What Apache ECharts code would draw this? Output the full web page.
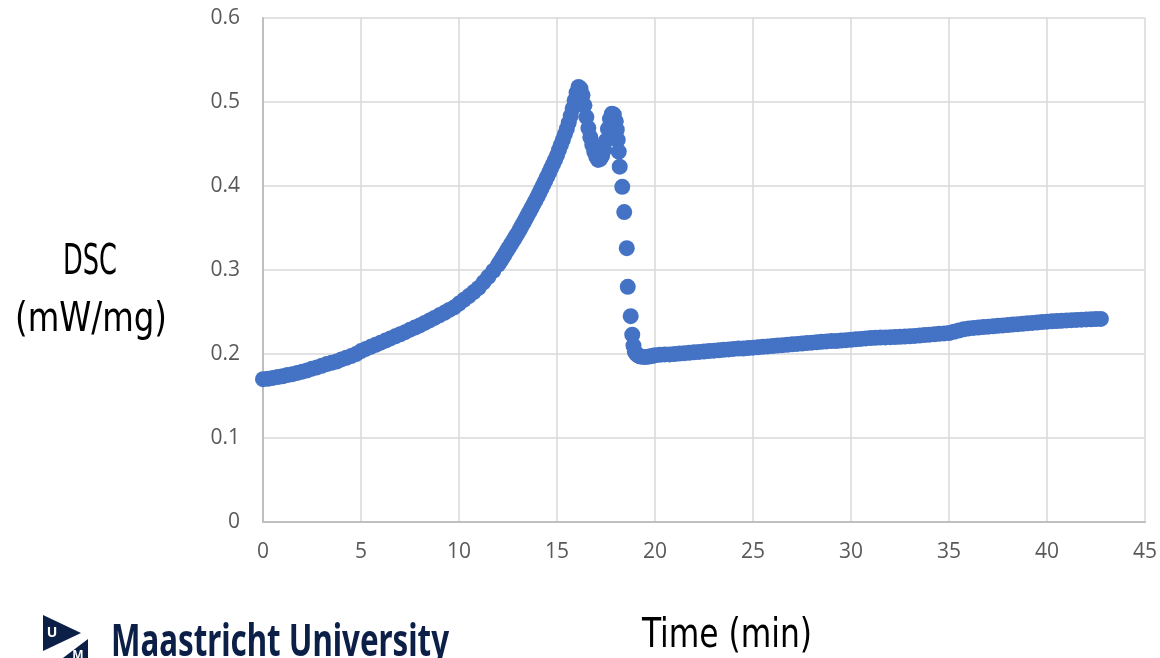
<!DOCTYPE html>
<html>
<head>
<meta charset="utf-8">
<title>DSC</title>
<script src="https://cdn.jsdelivr.net/npm/echarts@6/dist/echarts.min.js"></script>
<style>
  html, body { margin: 0; padding: 0; background: #ffffff; }
  #chart { width: 1160px; height: 658px; }
</style>
</head>
<body>
<div id="chart"></div>
<script>
// DSC heat flow (mW/mg) against time (min), [time, value] pairs per stage of the run.
const warmUp = [
  [0, 0.170], [0.25, 0.1705], [0.5, 0.1715], [0.75, 0.1725], [1, 0.1735], [1.25, 0.175],
  [1.5, 0.176], [1.75, 0.1775], [2, 0.179], [2.25, 0.1805], [2.5, 0.1825], [2.75, 0.184],
  [3, 0.186], [3.25, 0.188], [3.5, 0.1895], [3.75, 0.191], [4, 0.1935], [4.25, 0.1955],
  [4.5, 0.1975], [4.75, 0.200], [5, 0.2035], [5.25, 0.206], [5.5, 0.2085], [5.75, 0.211],
  [6, 0.2135], [6.25, 0.216], [6.5, 0.2185], [6.75, 0.221], [7, 0.2235], [7.25, 0.226],
  [7.5, 0.229], [7.75, 0.2315], [8, 0.234], [8.25, 0.237], [8.5, 0.240], [8.75, 0.243],
  [9, 0.246], [9.25, 0.249], [9.5, 0.2525], [9.75, 0.2555], [10, 0.260], [10.25, 0.2645],
  [10.5, 0.269], [10.75, 0.2737], [11, 0.2787], [11.25, 0.2853], [11.5, 0.292], [11.75, 0.299],
  [12, 0.3065]
];

const meltPeak = [
  [12.1, 0.310], [12.2, 0.3137], [12.3, 0.3174], [12.4, 0.3212], [12.5, 0.325], [12.6, 0.3288],
  [12.7, 0.3326], [12.8, 0.3364], [12.9, 0.3402], [13, 0.344], [13.1, 0.3482], [13.2, 0.3524],
  [13.3, 0.3566], [13.4, 0.3609], [13.5, 0.3652], [13.6, 0.3695], [13.7, 0.3738], [13.8, 0.3782],
  [13.9, 0.3826], [14, 0.387], [14.1, 0.3917], [14.2, 0.3965], [14.3, 0.4013], [14.4, 0.4062],
  [14.5, 0.4111], [14.6, 0.4161], [14.7, 0.4211], [14.8, 0.4261], [14.9, 0.4312], [15, 0.4365],
  [15.1, 0.443], [15.2, 0.449], [15.3, 0.455], [15.4, 0.4615], [15.5, 0.468], [15.6, 0.4755],
  [15.7, 0.4835], [15.8, 0.4925], [15.9, 0.502], [16, 0.511], [16.1, 0.518], [16.2, 0.516],
  [16.3, 0.508], [16.4, 0.496], [16.5, 0.482], [16.6, 0.469], [16.7, 0.458], [16.8, 0.449],
  [16.9, 0.441], [17, 0.435], [17.1, 0.431], [17.2, 0.432], [17.3, 0.436], [17.4, 0.443],
  [17.5, 0.454], [17.6, 0.468], [17.7, 0.480], [17.8, 0.486], [17.9, 0.485], [18, 0.477]
];

const dropOff = [
  [18.05, 0.467], [18.1, 0.455], [18.15, 0.441], [18.2, 0.423], [18.33, 0.399], [18.43, 0.369],
  [18.56, 0.326], [18.61, 0.280], [18.76, 0.245], [18.84, 0.223], [18.9, 0.210], [18.97, 0.203],
  [19.05, 0.200], [19.15, 0.198], [19.25, 0.197], [19.4, 0.1965], [19.55, 0.1965], [19.7, 0.197],
  [19.85, 0.1975]
];

const baseline = [
  [20, 0.1985], [20.25, 0.199], [20.5, 0.1995], [20.75, 0.1995], [21, 0.200], [21.25, 0.2005],
  [21.5, 0.201], [21.75, 0.2015], [22, 0.202], [22.25, 0.2025], [22.5, 0.203], [22.75, 0.2035],
  [23, 0.204], [23.25, 0.2045], [23.5, 0.205], [23.75, 0.2055], [24, 0.206], [24.25, 0.2065],
  [24.5, 0.2065], [24.75, 0.207], [25, 0.2075], [25.25, 0.208], [25.5, 0.2085], [25.75, 0.209],
  [26, 0.2095], [26.25, 0.210], [26.5, 0.2105], [26.75, 0.211], [27, 0.2115], [27.25, 0.212],
  [27.5, 0.2125], [27.75, 0.213], [28, 0.2135], [28.25, 0.214], [28.5, 0.2145], [28.75, 0.215],
  [29, 0.2155], [29.25, 0.2155], [29.5, 0.216], [29.75, 0.2165], [30, 0.217], [30.25, 0.2175],
  [30.5, 0.218], [30.75, 0.2185], [31, 0.219], [31.25, 0.2192], [31.5, 0.2195], [31.75, 0.2197],
  [32, 0.220], [32.25, 0.2202], [32.5, 0.2205], [32.75, 0.2207], [33, 0.221], [33.25, 0.2215],
  [33.5, 0.222], [33.75, 0.2225], [34, 0.223], [34.25, 0.2235], [34.5, 0.224], [34.75, 0.2245],
  [35, 0.225], [35.25, 0.2265], [35.5, 0.228], [35.75, 0.2295], [36, 0.2305], [36.25, 0.231],
  [36.5, 0.2315], [36.75, 0.232], [37, 0.2325], [37.25, 0.233], [37.5, 0.2335], [37.75, 0.234],
  [38, 0.2345], [38.25, 0.235], [38.5, 0.2355], [38.75, 0.236], [39, 0.2365], [39.25, 0.237],
  [39.5, 0.2375], [39.75, 0.238], [40, 0.2385], [40.25, 0.239], [40.5, 0.2393], [40.75, 0.2396],
  [41, 0.240], [41.25, 0.2403], [41.5, 0.2406], [41.75, 0.2409], [42, 0.2412], [42.25, 0.2414],
  [42.5, 0.2416], [42.75, 0.2418]
];

const xAxisTitle = 'Time (min)';
const yAxisTitleLines = ['DSC', '(mW/mg)'];
const brandName = 'Maastricht University';

const dscPoints = [].concat(warmUp, meltPeak, dropOff, baseline);

const chart = echarts.init(document.getElementById('chart'), null, { renderer: 'canvas' });

const tickFont = { color: '#595959', fontSize: 21, fontFamily: '"Open Sans", "Noto Sans", sans-serif' };
const titleFont = '"DejaVu Sans Condensed", "DejaVu Sans", sans-serif';
const navy = '#0b1f47';

// Axis titles are set as free text so they can be narrowed like the condensed face they use.
function titleText(text, x, y, size, sx) {
  return {
    type: 'text', x: x, y: y, scaleX: sx, silent: true,
    style: {
      text: text, fill: '#000000', font: size + 'px ' + titleFont,
      align: 'center', verticalAlign: 'middle'
    }
  };
}

chart.setOption({
  animation: false,
  backgroundColor: '#ffffff',
  grid: { left: 263, right: 15, top: 18, bottom: 136, containLabel: false, outerBoundsMode: 'none' },
  xAxis: {
    type: 'value',
    min: 0, max: 45, interval: 5,
    axisLine: { show: true, onZero: false, lineStyle: { color: '#bfbfbf', width: 2 } },
    axisTick: { show: false },
    axisLabel: Object.assign({ margin: 20 }, tickFont),
    splitLine: { show: true, lineStyle: { color: '#d9d9d9', width: 1.5 } }
  },
  yAxis: {
    type: 'value',
    min: 0, max: 0.6, interval: 0.1,
    axisLine: { show: true, onZero: false, lineStyle: { color: '#bfbfbf', width: 2 } },
    axisTick: { show: false },
    axisLabel: Object.assign({ margin: 23 }, tickFont),
    splitLine: { show: true, lineStyle: { color: '#d9d9d9', width: 1.5 } }
  },
  series: [{
    type: 'scatter',
    data: dscPoints,
    symbol: 'circle',
    symbolSize: 16,
    itemStyle: { color: '#4472c4', opacity: 1 },
    emphasis: { disabled: true },
    silent: true,
    z: 3
  }],
  graphic: [
    titleText(yAxisTitleLines[0], 90, 263, 42, 0.68),
    titleText(yAxisTitleLines[1], 91, 321, 40, 0.9),
    titleText(xAxisTitle, 727, 636, 41, 0.85),
    { type: 'polygon', silent: true, shape: { points: [[43, 615], [81, 633], [43, 651]] }, style: { fill: navy } },
    { type: 'text', silent: true, x: 52, y: 633, style: { text: 'U', fill: '#ffffff', font: 'bold 14px "Noto Sans", sans-serif', align: 'center', verticalAlign: 'middle' } },
    { type: 'polygon', silent: true, shape: { points: [[88, 639], [88, 664], [55, 664]] }, style: { fill: navy } },
    { type: 'text', silent: true, x: 78, y: 656, style: { text: 'M', fill: '#ffffff', font: 'bold 12px "Noto Sans", sans-serif', align: 'center', verticalAlign: 'middle' } },
    { type: 'text', silent: true, x: 111, y: 643, scaleX: 0.695, style: { text: brandName, fill: navy, font: 'bold 45px "Noto Sans", sans-serif', align: 'left', verticalAlign: 'middle' } }
  ]
});
</script>
</body>
</html>
